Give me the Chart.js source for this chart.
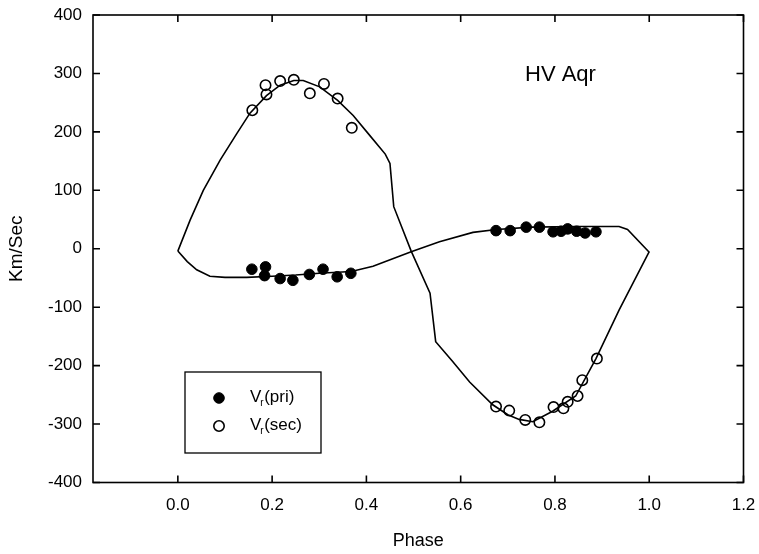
<!DOCTYPE html>
<html><head><meta charset="utf-8">
<script src="https://cdn.jsdelivr.net/npm/chart.js@4.4.1/dist/chart.umd.min.js"></script>
<style>html,body{margin:0;padding:0;background:#fff}</style>
</head><body>
<canvas id="c" width="759" height="554"></canvas>
<script>
// ---- data ----
const priPhase = [0.157,0.184,0.186,0.217,0.244,0.279,0.308,0.338,0.367,0.675,0.705,0.739,0.767,0.796,0.813,0.827,0.846,0.864,0.887];
const priVel   = [-35,-46,-31,-51,-54,-44,-35,-48,-42,31,31,37,37,29,30,34,30,27,29];
const secPhase = [0.158,0.186,0.188,0.217,0.246,0.280,0.310,0.339,0.369,0.675,0.703,0.737,0.767,0.797,0.818,0.827,0.848,0.858,0.889];
const secVel   = [237,280,264,287,289,266,282,257,207,-270,-277,-293,-297,-271,-273,-262,-252,-225,-188];

const modelSecPhase = [0,0.026,0.054,0.09,0.125,0.153,0.188,0.217,0.246,0.266,0.301,0.339,0.372,0.407,0.44,0.45,0.458,0.495,0.535,0.547,0.583,0.619,0.668,0.7,0.724,0.753,0.795,0.844,0.887,0.936,1.0];
const modelSecVel   = [-4,49,100,152,197,232,262,280,288,288,277,254,228,194,162,146,72,-4,-76,-159,-193,-228,-267,-284,-292,-296,-278,-252,-188,-105,-5];
const modelPriPhase = [0,0.02,0.04,0.068,0.1,0.146,0.2,0.25,0.3,0.368,0.414,0.495,0.555,0.626,0.676,0.75,0.85,0.936,0.954,1.0];
const modelPriVel   = [-4,-22,-36,-47,-49,-49,-47,-45,-42,-39,-30,-5,12,28,33,37,38,38,33,-6];

const xTicks = [0.0,0.2,0.4,0.6,0.8,1.0,1.2];
const yTicks = [-400,-300,-200,-100,0,100,200,300,400];
const legendLabels = ['pri','sec'];
const starName = 'HV Aqr';
const xTitle = 'Phase';
const yTitle = 'Km/Sec';

const pts = (xs, ys) => xs.map((v, i) => ({x: v, y: ys[i]}));
const FONT = '"Liberation Sans", Arial, Helvetica, sans-serif';

const framePlugin = {
  id: 'frame',
  afterDatasetsDraw(chart) {
    const {ctx, chartArea: a, scales: {x, y}} = chart;
    ctx.save();
    ctx.strokeStyle = '#000';
    ctx.lineWidth = 1.6;
    ctx.strokeRect(a.left, a.top, a.right - a.left, a.bottom - a.top);
    const L = 7;
    ctx.beginPath();
    x.ticks.forEach(t => {
      const p = x.getPixelForValue(t.value);
      ctx.moveTo(p, a.bottom); ctx.lineTo(p, a.bottom - L);
      ctx.moveTo(p, a.top); ctx.lineTo(p, a.top + L);
    });
    y.ticks.forEach(t => {
      const p = y.getPixelForValue(t.value);
      ctx.moveTo(a.left, p); ctx.lineTo(a.left + L, p);
      ctx.moveTo(a.right, p); ctx.lineTo(a.right - L, p);
    });
    ctx.stroke();

    // star name
    ctx.fillStyle = '#000';
    ctx.font = '22px ' + FONT;
    ctx.textAlign = 'left';
    ctx.textBaseline = 'alphabetic';
    ctx.fillText(starName, a.left + 432, a.top + 66);

    // legend box
    const bx = a.left + 92, by = a.top + 357, bw = 136, bh = 81;
    ctx.lineWidth = 1.3;
    ctx.strokeRect(bx, by, bw, bh);
    const dsPri = chart.data.datasets[0], dsSec = chart.data.datasets[1];
    const rows = [[dsPri, legendLabels[0], 26], [dsSec, legendLabels[1], 54]];
    rows.forEach(([ds, lab, dy]) => {
      const cy = by + dy;
      const cx = bx + 34;
      ctx.beginPath();
      ctx.arc(cx, cy, ds.pointRadius, 0, Math.PI * 2);
      ctx.fillStyle = ds.pointBackgroundColor;
      ctx.fill();
      ctx.lineWidth = ds.pointBorderWidth;
      ctx.strokeStyle = ds.pointBorderColor;
      ctx.stroke();
      ctx.fillStyle = '#000';
      ctx.textBaseline = 'middle';
      let tx = bx + 65;
      ctx.font = '17px ' + FONT;
      ctx.fillText('V', tx, cy - 1);
      tx += ctx.measureText('V').width - 1;
      ctx.font = '10px ' + FONT;
      ctx.fillText('r', tx, cy + 5);
      tx += ctx.measureText('r').width + 0.5;
      ctx.font = '17px ' + FONT;
      ctx.fillText('(' + lab + ')', tx, cy - 1);
    });
    ctx.restore();
  }
};

new Chart(document.getElementById('c'), {
  type: 'scatter',
  data: {
    datasets: [
      { label: 'Vr(pri)', data: pts(priPhase, priVel), pointRadius: 5.3, pointHoverRadius: 5.3,
        pointBackgroundColor: '#000', pointBorderColor: '#000', pointBorderWidth: 1, showLine: false, order: 1 },
      { label: 'Vr(sec)', data: pts(secPhase, secVel), pointRadius: 5.2, pointHoverRadius: 5.2,
        pointBackgroundColor: 'rgba(255,255,255,0)', pointBorderColor: '#000', pointBorderWidth: 1.6, showLine: false, order: 2 },
      { label: 'model sec', data: pts(modelSecPhase, modelSecVel), showLine: true, pointRadius: 0,
        borderColor: '#000', borderWidth: 1.6, tension: 0, fill: false, order: 3 },
      { label: 'model pri', data: pts(modelPriPhase, modelPriVel), showLine: true, pointRadius: 0,
        borderColor: '#000', borderWidth: 1.6, tension: 0, fill: false, order: 4 }
    ]
  },
  options: {
    responsive: false,
    animation: false,
    devicePixelRatio: 1,
    layout: { padding: { left: 0, right: 15.5, top: 15, bottom: 0 } },
    plugins: { legend: { display: false }, tooltip: { enabled: false } },
    scales: {
      x: {
        type: 'linear', min: -0.18, max: 1.2,
        grid: { display: false, drawTicks: false }, border: { display: false },
        afterBuildTicks: s => { s.ticks = xTicks.map(v => ({ value: v })); },
        afterFit: s => { s.height = 71.5; s.paddingLeft = 0; s.paddingRight = 0; },
        ticks: { color: '#000', padding: 13, font: { size: 17, family: FONT },
                 callback: v => Number(v).toFixed(1), maxRotation: 0, autoSkip: false },
        title: { display: true, text: xTitle, color: '#000', font: { size: 18, family: FONT },
                 padding: { top: 0, bottom: 2 } }
      },
      y: {
        type: 'linear', min: -400, max: 400,
        grid: { display: false, drawTicks: false }, border: { display: false },
        afterBuildTicks: s => { s.ticks = yTicks.map(v => ({ value: v })); },
        afterFit: s => { s.width = 93; s.paddingTop = 0; s.paddingBottom = 0; },
        ticks: { color: '#000', padding: 11, font: { size: 17, family: FONT }, autoSkip: false },
        title: { display: true, text: yTitle, color: '#000', font: { size: 19, family: FONT },
                 padding: { top: 5, bottom: 0 } }
      }
    }
  },
  plugins: [framePlugin]
});
</script>
</body></html>
